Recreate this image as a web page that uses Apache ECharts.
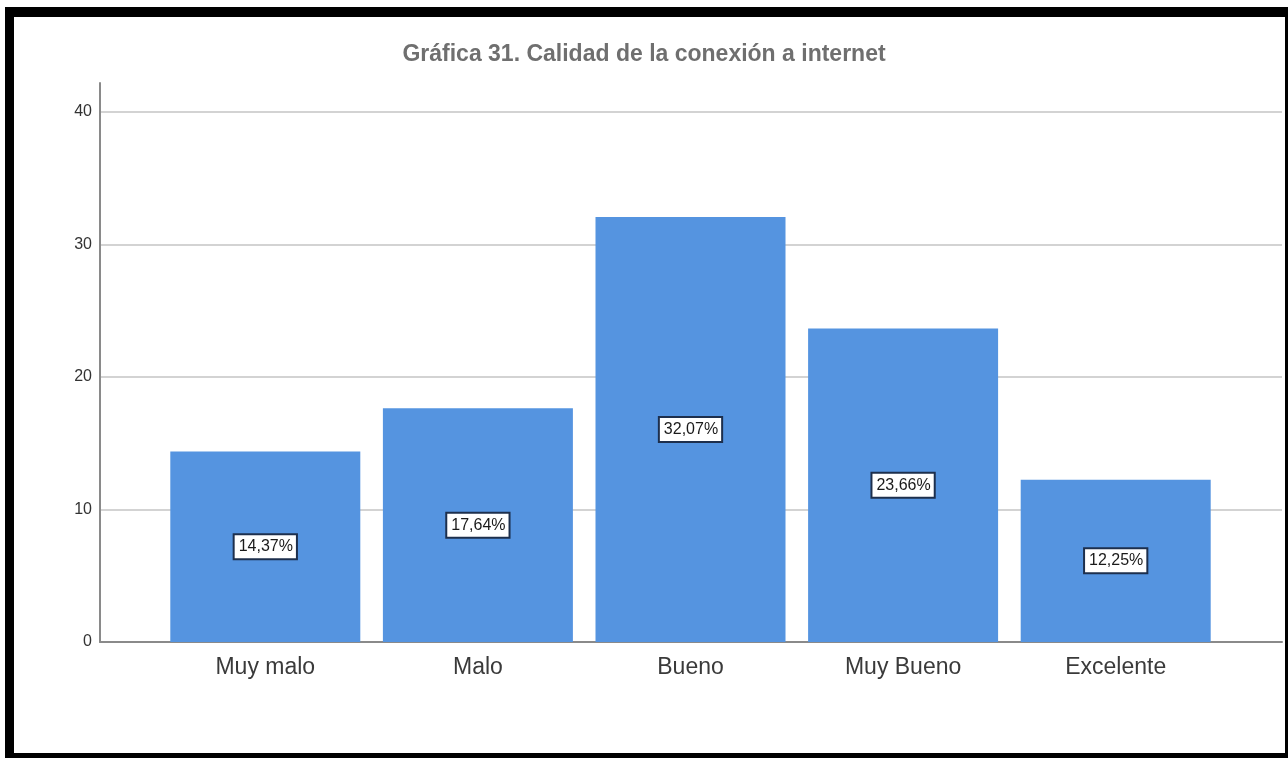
<!DOCTYPE html>
<html>
<head>
<meta charset="utf-8">
<title>Gráfica 31. Calidad de la conexión a internet</title>
<script src="https://cdn.jsdelivr.net/npm/echarts@6/dist/echarts.min.js"></script>
<style>
  html, body { margin: 0; padding: 0; background: #ffffff; }
  #chart { position: absolute; left: 0; top: 0; width: 1288px; height: 758px; }
  #frame {
    position: absolute; left: 5px; top: 7px; width: 1283px; height: 751px;
    box-sizing: border-box; pointer-events: none;
    border-style: solid; border-color: #000;
    border-width: 10px 3px 5px 9px;
  }
</style>
</head>
<body>
<div id="chart"></div>
<div id="frame"></div>
<script>
// Calidad de la conexión a internet (% de respuestas)
const categories = ['Muy malo', 'Malo', 'Bueno', 'Muy Bueno', 'Excelente'];
const percentages = [14.37, 17.64, 32.07, 23.66, 12.25];
const yTicks = [0, 10, 20, 30, 40];

const FONT = '"Liberation Sans", Arial, sans-serif';
const yMax = yTicks[yTicks.length - 1];
const yStep = yTicks[1] - yTicks[0];

const chart = echarts.init(document.getElementById('chart'), null, { renderer: 'canvas' });

chart.setOption({
  animation: false,
  backgroundColor: '#ffffff',
  title: {
    text: 'Gráfica 31. Calidad de la conexión a internet',
    left: 'center',
    top: 38,
    textStyle: { fontFamily: FONT, fontSize: 23, fontWeight: 'bold', color: '#6f6f6f' }
  },
  grid: [
    // tall frame: vertical axis line reaching above the top tick
    { left: 100, right: 6, top: 83, bottom: 116 },
    // value frame: ticks, gridlines and baseline
    { left: 100, right: 6, top: 112, bottom: 116 },
    // bars, inset from both ends of the baseline
    { left: 159, width: 1063, top: 112, bottom: 116 }
  ],
  xAxis: [
    { gridIndex: 0, type: 'category', data: categories, show: false },
    {
      gridIndex: 1, type: 'category', data: categories,
      axisLine: { show: true, lineStyle: { color: '#8a8a8a', width: 2 } },
      axisTick: { show: false }, axisLabel: { show: false }, splitLine: { show: false }
    },
    {
      gridIndex: 2, type: 'category', data: categories,
      axisLine: { show: false }, axisTick: { show: false },
      axisLabel: { margin: 14, fontFamily: FONT, fontSize: 23, color: '#3a3a3a' }
    }
  ],
  yAxis: [
    {
      gridIndex: 0, type: 'value', min: 0, max: yMax + 29 / 13.25,
      axisLine: { show: true, lineStyle: { color: '#8a8a8a', width: 2 } },
      axisTick: { show: false }, axisLabel: { show: false }, splitLine: { show: false }
    },
    {
      gridIndex: 1, type: 'value', min: 0, max: yMax, interval: yStep,
      axisLine: { show: false }, axisTick: { show: false },
      axisLabel: { margin: 8, fontFamily: FONT, fontSize: 16, color: '#333333' },
      splitLine: { show: true, lineStyle: { color: '#d3d3d3', width: 2 } }
    },
    {
      gridIndex: 2, type: 'value', min: 0, max: yMax, show: false
    }
  ],
  series: [
    {
      type: 'bar',
      xAxisIndex: 2,
      yAxisIndex: 2,
      data: percentages,
      barWidth: 190,
      itemStyle: { color: '#5594e0' },
      label: {
        show: true,
        position: 'inside',
        formatter: p => p.value.toFixed(2).replace('.', ',') + '%',
        fontFamily: FONT,
        fontSize: 16,
        color: '#1a1a1a',
        backgroundColor: '#ffffff',
        borderColor: '#1d2f4d',
        borderWidth: 2,
        padding: [3, 3, 2, 4],
        lineHeight: 18
      }
    }
  ]
});
</script>
</body>
</html>
